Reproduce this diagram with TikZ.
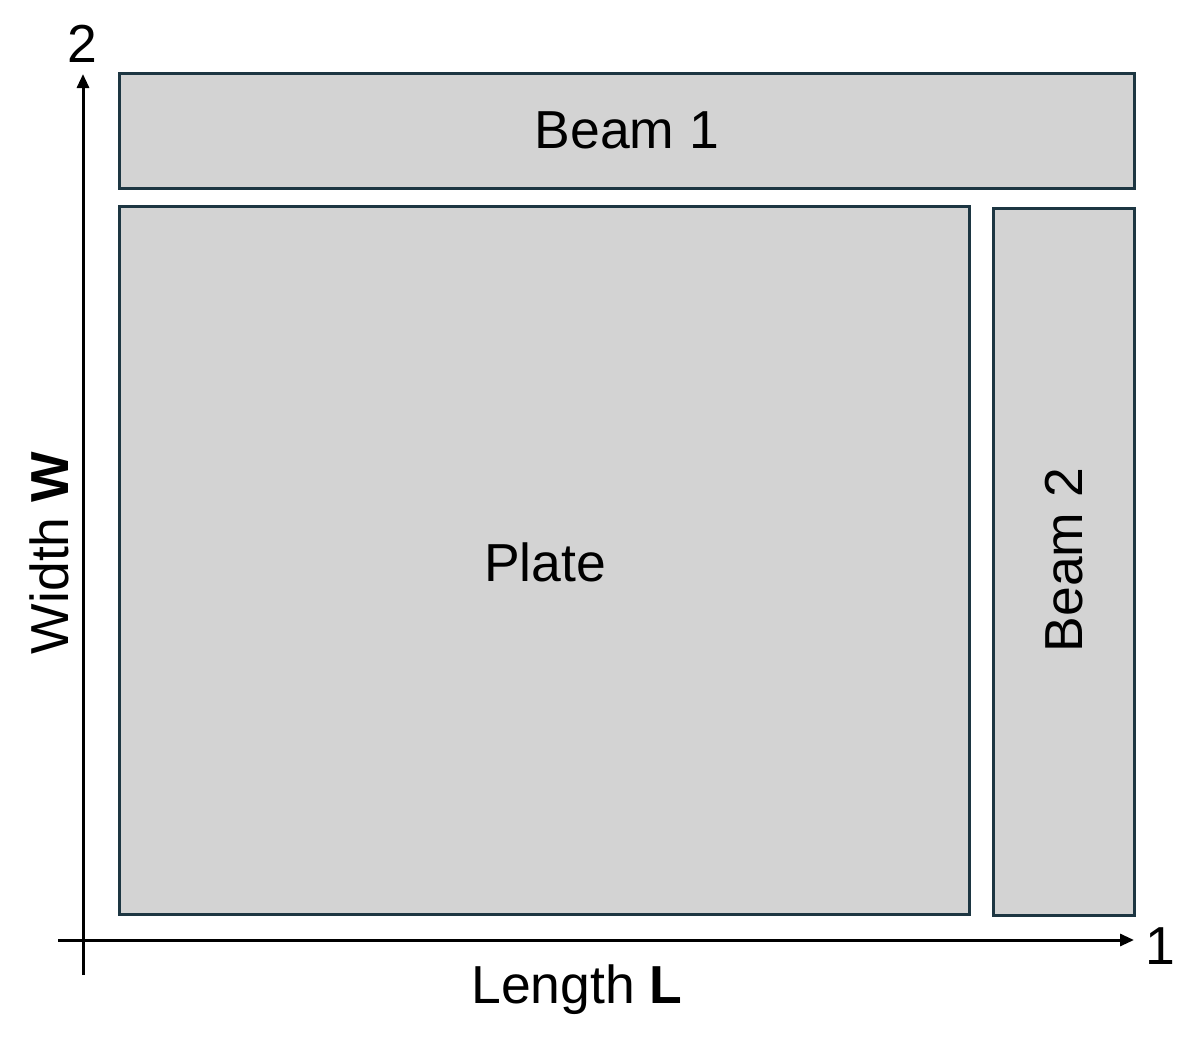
\documentclass[tikz,border=0pt]{standalone}
\usepackage{fontspec}
\setmainfont{Liberation Sans}
\usetikzlibrary{arrows.meta}
\definecolor{edge}{HTML}{1D3642}
\definecolor{boxfill}{HTML}{D3D3D3}
\tikzset{
  part/.style={draw=edge, fill=boxfill, line width=3bp, inner sep=0pt, outer sep=0pt,
    font=\fontsize{53.5bp}{60bp}\selectfont},
  axis/.style={draw=black, line width=3bp, -{Triangle[length=14bp,width=12bp]}},
  lbl/.style={inner sep=0pt, font=\fontsize{53.5bp}{60bp}\selectfont}
}
\begin{document}
\begin{tikzpicture}[x=1bp,y=-1bp]
\useasboundingbox (0,0) rectangle (1196,1044);
\node[part, minimum width=1014bp, minimum height=115bp] (beam1) at (627,130.5) {Beam 1};
\node[part, minimum width=849bp, minimum height=707bp] (plate) at (544.5,560.5) {};
\node[lbl] (platetxt) at (545,562) {Plate};
\node[part, rotate=90, minimum width=706bp, minimum height=141bp] (beam2) at (1063.5,562) {};
\node[lbl, rotate=90] (beam2txt) at (1064,560) {Beam 2};
\coordinate (yb) at (83,975);
\coordinate (yt) at (83,74);
\coordinate (xl) at (58,940);
\coordinate (xr) at (1134,940);
\draw[axis] (yb) -- (yt);
\draw[axis] (xl) -- (xr);
\node[lbl] (two) at (82,44) {2};
\node[lbl] (one) at (1160,946) {1};
\node[lbl] (len) at (577,990) {Length \textbf{L}};
\node[lbl, rotate=90] (wid) at (49,553) {Width \textbf{W}};
\end{tikzpicture}
\end{document}
